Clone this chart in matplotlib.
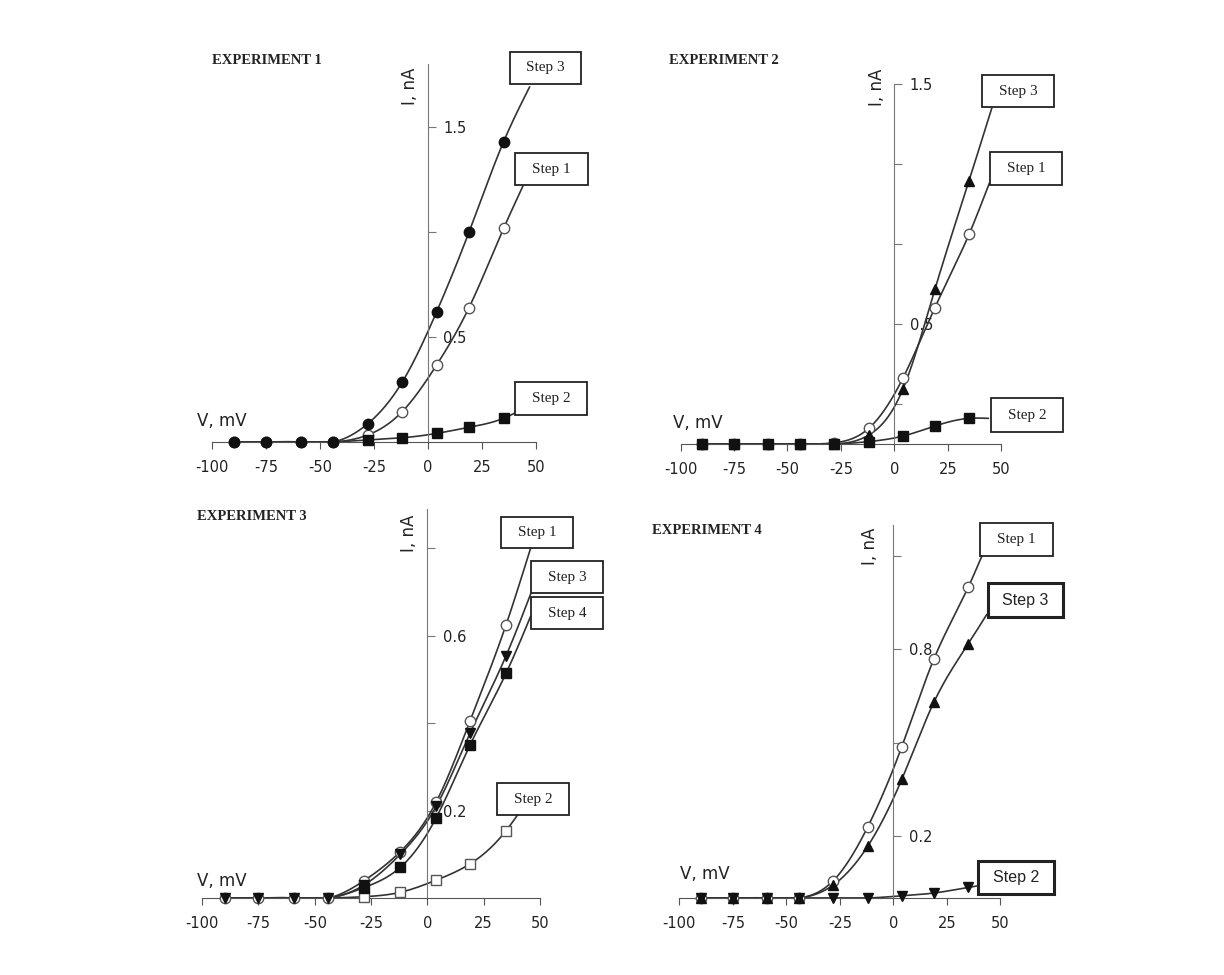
import numpy as np
import matplotlib
matplotlib.use("Agg")
import matplotlib.pyplot as plt
from matplotlib.patches import Rectangle

W, H = 1224, 975

# membrane voltage of the test pulses, mV
volts = [-90, -75, -59, -44, -28, -12, 4, 19, 35]
xticks = [-100, -75, -50, -25, 0, 25, 50]

# experiment 1, current in nA
e1_step3 = [0, 0, 0, 0, 0.086, 0.284, 0.62, 1.0, 1.43]
e1_step1 = [0, 0, 0, 0, 0.033, 0.144, 0.367, 0.64, 1.017]
e1_step2 = [0, 0, 0, 0, 0.01, 0.02, 0.041, 0.07, 0.113]
e1_ends = {"Step 3": (47, 1.69), "Step 1": (44, 1.22), "Step 2": (40.3, 0.138)}

# experiment 2
e2_step3 = [0, 0, 0, 0, 0, 0.037, 0.228, 0.645, 1.099]
e2_step1 = [0, 0, 0, 0, 0.005, 0.065, 0.274, 0.569, 0.875]
e2_step2 = [0, 0, 0, 0, 0, 0.01, 0.033, 0.075, 0.107]
e2_ends = {"Step 3": (45.6, 1.40), "Step 1": (44.5, 1.088), "Step 2": (44, 0.107)}

# experiment 3
e3_step1 = [0, 0, 0, 0, 0.04, 0.106, 0.22, 0.405, 0.625]
e3_step3 = [0, 0, 0, 0, 0.03, 0.10, 0.21, 0.377, 0.554]
e3_step4 = [0, 0, 0, 0, 0.024, 0.07, 0.184, 0.35, 0.514]
e3_step2 = [0, 0, 0, 0, 0.003, 0.013, 0.041, 0.078, 0.154]
e3_ends = {"Step 1": (45.9, 0.80), "Step 3": (45.9, 0.695),
           "Step 4": (45.9, 0.644), "Step 2": (40.4, 0.192)}

# experiment 4
e4_step1 = [0, 0, 0, 0, 0.056, 0.228, 0.487, 0.769, 0.999]
e4_step3 = [0, 0, 0, 0, 0.042, 0.166, 0.382, 0.63, 0.817]
e4_step2 = [0, 0, 0, 0, 0, 0, 0.007, 0.016, 0.034]
e4_ends = {"Step 1": (41.3, 1.098), "Step 3": (43.6, 0.911), "Step 2": (40.2, 0.04)}


def spline(x, y, xs):
    # natural cubic spline through the points, only to draw a smooth line
    x = np.asarray(x, float)
    y = np.asarray(y, float)
    n = len(x)
    h = np.diff(x)
    A = np.zeros((n, n))
    b = np.zeros(n)
    A[0, 0] = A[-1, -1] = 1
    for i in range(1, n - 1):
        A[i, i - 1] = h[i - 1]
        A[i, i] = 2 * (h[i - 1] + h[i])
        A[i, i + 1] = h[i]
        b[i] = 6 * ((y[i + 1] - y[i]) / h[i] - (y[i] - y[i - 1]) / h[i - 1])
    M = np.linalg.solve(A, b)
    idx = np.clip(np.searchsorted(x, xs) - 1, 0, n - 2)
    x0, x1 = x[idx], x[idx + 1]
    hh = h[idx]
    out = (M[idx] * (x1 - xs) ** 3 / (6 * hh) + M[idx + 1] * (xs - x0) ** 3 / (6 * hh)
           + (y[idx] / hh - M[idx] * hh / 6) * (x1 - xs)
           + (y[idx + 1] / hh - M[idx + 1] * hh / 6) * (xs - x0))
    return np.clip(out, 0, None)


fig = plt.figure(figsize=(W / 100, H / 100), dpi=100)


def make_panel(x0, sx, y0, sy, ytop, yticks, ylabels):
    left = x0 - 100 * sx
    right = x0 + 50 * sx
    top = y0 - ytop * sy
    ax = fig.add_axes([left / W, 1 - y0 / H, (right - left) / W, (y0 - top) / H])
    ax.set_xlim(-100, 50)
    ax.set_ylim(0, ytop)
    ax.patch.set_alpha(0)
    for s in ["top", "left"]:
        ax.spines[s].set_visible(False)
    ax.spines["right"].set_position(("data", 0))
    ax.spines["right"].set_color("#777777")
    ax.spines["bottom"].set_color("#555555")
    ax.yaxis.tick_right()
    ax.set_xticks(xticks)
    ax.set_xticklabels([str(t) for t in xticks])
    ax.set_yticks(yticks)
    ax.set_yticklabels(ylabels)
    ax.tick_params(axis="x", direction="out", length=5, pad=8, labelsize=10.5,
                   color="#555555", labelcolor="#222222")
    ax.tick_params(axis="y", direction="out", length=6, pad=5, labelsize=10.5,
                   color="#777777", labelcolor="#222222")
    return ax


def curve(ax, y, end, marker, filled, ms=7.5, first=0):
    xs_pts = volts + [end[0]]
    ys_pts = y + [end[1]]
    xs = np.linspace(volts[0], end[0], 400)
    ax.plot(xs, spline(xs_pts, ys_pts, xs), color="#333333", lw=1.2, clip_on=False, zorder=2)
    # the baseline points of some series sit under other markers
    mx, my = volts[first:], y[first:]
    if filled:
        ax.plot(mx, my, ls="none", marker=marker, ms=ms, mfc="#111111", mec="#111111",
                clip_on=False, zorder=4)
    else:
        ax.plot(mx, my, ls="none", marker=marker, ms=ms, mfc="white", mec="#555555",
                mew=1.0, clip_on=False, zorder=3)


def box(x, y, w, h, text, serif=True, lw=1.3):
    fig.add_artist(Rectangle((x / W, 1 - (y + h) / H), w / W, h / H,
                             transform=fig.transFigure, fill=True, fc="white",
                             ec="#222222", lw=lw, zorder=5))
    fig.text((x + w / 2) / W, 1 - (y + h / 2) / H, text, ha="center", va="center",
             family="Liberation Serif" if serif else "Liberation Sans",
             fontsize=11 if serif else 11.5, color="#222222", zorder=6)


def labels(title, tx, ty, ix, iy, vx, vy):
    fig.text(tx / W, 1 - ty / H, title, family="Liberation Serif", weight="bold",
             fontsize=10.5, va="center", ha="left", color="#222222")
    fig.text(ix / W, 1 - iy / H, "I, nA", rotation=90, fontsize=12, ha="center",
             va="center", color="#222222")
    fig.text(vx / W, 1 - vy / H, "V, mV", fontsize=12, ha="left", va="center",
             color="#222222")


# experiment 1
ax1 = make_panel(428, 2.16, 442, 210, 1.80, [0.5, 1.0, 1.5], ["0.5", "", "1.5"])
curve(ax1, e1_step2, e1_ends["Step 2"], "s", True, 6.5, first=4)
curve(ax1, e1_step1, e1_ends["Step 1"], "o", False)
curve(ax1, e1_step3, e1_ends["Step 3"], "o", True)
labels("EXPERIMENT 1", 212, 60, 410, 86, 197, 421)
box(510, 52, 71, 32, "Step 3")
box(515, 153, 73, 32, "Step 1")
box(515, 382, 72, 33, "Step 2")

# experiment 2
ax2 = make_panel(894.3, 2.136, 444, 239.7, 1.5,
                 [1 / 6, 0.5, 5 / 6, 7 / 6, 1.5], ["", "0.5", "", "", "1.5"])
curve(ax2, e2_step2, e2_ends["Step 2"], "s", True, 6.5)
curve(ax2, e2_step1, e2_ends["Step 1"], "o", False)
curve(ax2, e2_step3, e2_ends["Step 3"], "^", True)
labels("EXPERIMENT 2", 669, 60, 877, 87, 673, 423)
box(982, 75, 72, 32, "Step 3")
box(990, 152, 72, 33, "Step 1")
box(991, 398, 72, 34, "Step 2")

# experiment 3
ax3 = make_panel(427.3, 2.251, 898, 437.3, 0.889,
                 [0.2, 0.4, 0.6, 0.8], ["0.2", "", "0.6", ""])
curve(ax3, e3_step2, e3_ends["Step 2"], "s", False, 6.5, first=4)
curve(ax3, e3_step4, e3_ends["Step 4"], "s", True, 6.5, first=4)
curve(ax3, e3_step3, e3_ends["Step 3"], "v", True)
curve(ax3, e3_step1, e3_ends["Step 1"], "o", False)
labels("EXPERIMENT 3", 197, 516, 409, 533, 197, 881)
box(501, 517, 72, 31, "Step 1")
box(531, 561, 72, 32, "Step 3")
box(531, 597, 72, 32, "Step 4")
box(497, 783, 72, 32, "Step 2")

# experiment 4
ax4 = make_panel(893.3, 2.14, 898, 311, 1.2,
                 [0.2, 0.5, 0.8, 1.1], ["0.2", "", "0.8", ""])
curve(ax4, e4_step2, e4_ends["Step 2"], "v", True)
curve(ax4, e4_step3, e4_ends["Step 3"], "^", True)
curve(ax4, e4_step1, e4_ends["Step 1"], "o", False)
labels("EXPERIMENT 4", 652, 531, 870, 546, 680, 874)
box(980, 523, 73, 33, "Step 1")
box(988, 583, 75, 34, "Step 3", serif=False, lw=2.2)
box(978, 861, 76, 33, "Step 2", serif=False, lw=2.2)

fig.savefig("out.png", dpi=100)
